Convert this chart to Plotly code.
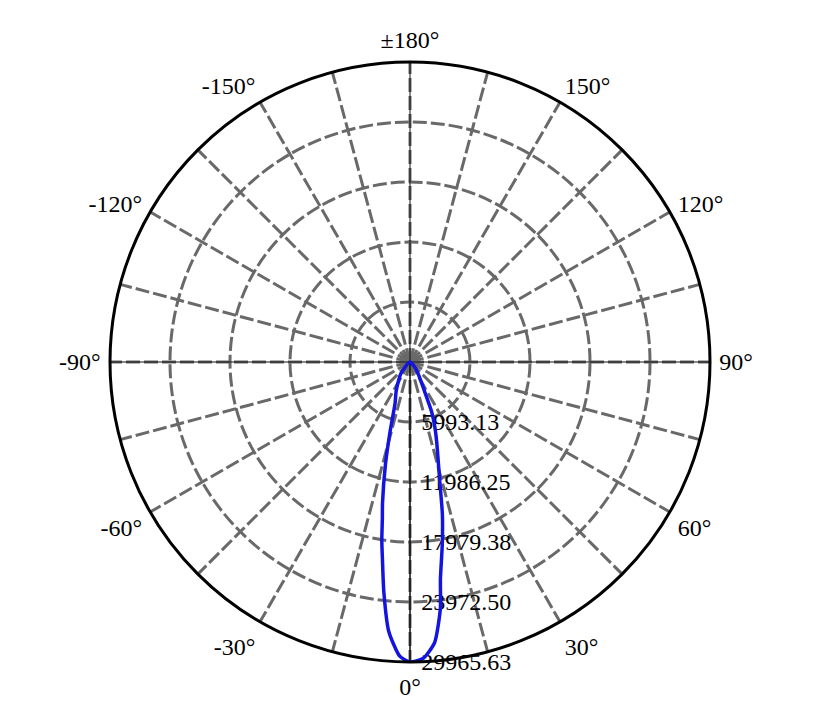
import plotly.graph_objects as go

# Luminous intensity distribution (cd) vs angle (deg)
angles = [-180, -150, -120, -90, -60, -45, -38, -30, -25, -20, -16, -13.5, -11, -10, -9, -8,
          -6.5, -4.5, -2, 0, 2.5, 5, 7, 8, 10, 12, 14, 16, 18.5, 21, 23.5, 27, 32, 40, 50,
          60, 90, 120, 150, 180]
intensity = [0, 0, 0, 0, 150, 600, 1500, 2400, 3300, 4350, 7200, 10500, 14400, 15900, 18000, 19800,
             23100, 27000, 29400, 29965.63, 29650, 28150, 24850, 21850, 18550, 15550, 12300, 10200,
             8400, 6900, 5400, 3000, 1800, 900, 300, 150, 0, 0, 0, 0]

r_max = 29965.63
r_ticks = [5993.13, 11986.25, 17979.38, 23972.50, 29965.63]
r_ticktext = ["5993.13", "11986.25", "17979.38", "23972.50", "29965.63"]

theta_ticks = list(range(0, 360, 15))
theta_labels = {0: "0°", 30: "30°", 60: "60°", 90: "90°", 120: "120°", 150: "150°",
                180: "±180°", 210: "-150°", 240: "-120°", 270: "-90°", 300: "-60°", 330: "-30°"}
theta_ticktext = [theta_labels.get(t, "") for t in theta_ticks]

W, H = 819, 715
off = 8  # page body margin
cx, cy, R = 410 - off, 362 - off, 300

fig = go.Figure()
# thin black cross axes
for a in (0, 90):
    fig.add_trace(go.Scatterpolar(
        r=[r_max, 0, r_max], theta=[a, 0, a + 180], mode="lines",
        line=dict(color="rgb(20,20,20)", width=1), showlegend=False, hoverinfo="skip",
    ))
fig.add_trace(go.Scatterpolar(
    r=intensity, theta=angles, mode="lines",
    line=dict(color="rgb(20,20,225)", width=3.5, shape="spline", smoothing=0.6),
    showlegend=False, hoverinfo="skip",
))

grid_dash = "14px,4px"
fig.update_layout(
    width=W, height=H,
    margin=dict(l=0, r=0, t=0, b=0),
    paper_bgcolor="white",
    font=dict(family="Liberation Serif", size=24, color="black"),
    polar=dict(
        domain=dict(x=[(cx - R) / W, (cx + R) / W], y=[(H - cy - R) / H, (H - cy + R) / H]),
        bgcolor="white",
        angularaxis=dict(
            rotation=-90, direction="counterclockwise",
            tickmode="array", tickvals=theta_ticks, ticktext=theta_ticktext,
            ticks="outside", ticklen=3, tickcolor="rgba(0,0,0,0)",
            showline=True, linecolor="black", linewidth=3,
            showgrid=True, gridcolor="rgb(105,105,105)", gridwidth=3, griddash=grid_dash,
            tickfont=dict(family="Liberation Serif", size=24, color="black"),
            layer="above traces",
        ),
        radialaxis=dict(
            range=[0, r_max], angle=-90, tickangle=-90, side="counterclockwise",
            tickmode="array", tickvals=r_ticks, ticktext=r_ticktext,
            ticks="outside", ticklen=6, tickcolor="rgba(0,0,0,0)",
            showline=True, linecolor="black", linewidth=1,
            showgrid=True, gridcolor="rgb(105,105,105)", gridwidth=3, griddash=grid_dash,
            tickfont=dict(family="Liberation Serif", size=24, color="black"),
            layer="below traces",
        ),
    ),
)

fig.write_html("out.html")
